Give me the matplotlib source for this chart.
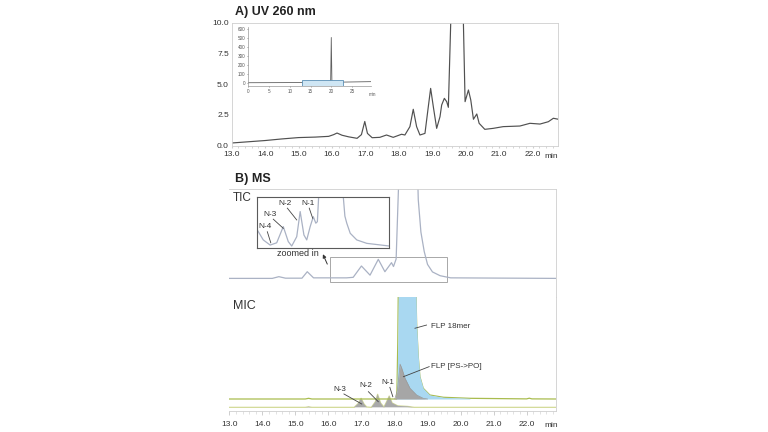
import matplotlib
matplotlib.use("Agg")
import numpy as np
import matplotlib.pyplot as plt
from matplotlib.patches import Rectangle
from matplotlib.ticker import MultipleLocator, FormatStrFormatter

plt.rcParams['font.family'] = ['Liberation Sans', 'DejaVu Sans']

# A) UV 260 nm trace (min, mAU)
uv_t = [13.0, 13.5, 14.0, 14.5, 15.0, 15.5, 15.9, 16.05, 16.15, 16.3, 16.5, 16.75,
        16.88, 16.98, 17.06, 17.2, 17.43, 17.63, 17.83, 18.08, 18.18, 18.33, 18.43,
        18.53, 18.63, 18.78, 18.88, 18.95, 19.03, 19.13, 19.23, 19.28, 19.36, 19.43,
        19.48, 19.55, 19.75, 19.93, 19.98, 20.08, 20.15, 20.23, 20.33, 20.4, 20.57,
        20.82, 21.12, 21.62, 21.92, 22.22, 22.47, 22.62, 22.77]
uv_v = [0.22, 0.32, 0.42, 0.55, 0.66, 0.7, 0.76, 0.9, 1.03, 0.85, 0.72, 0.6,
        0.9, 1.97, 1.0, 0.65, 0.68, 0.87, 0.68, 0.93, 0.87, 1.55, 2.96,
        1.55, 0.87, 1.0, 3.17, 4.66, 3.17, 1.41, 2.36, 3.31, 3.85, 3.58,
        3.12, 9.95, 40.0, 9.95, 3.58, 4.53, 3.72, 2.15, 2.58, 1.82, 1.33,
        1.41, 1.55, 1.6, 1.82, 1.76, 1.95, 2.23, 2.15]

# full UV run shown in the small inset (min, mAU)
uv_full_t = [0.0, 19.6, 19.85, 20.0, 20.15, 20.4, 29.5]
uv_full_v = [0.0, 3.0, 30.0, 505.0, 20.0, 5.0, 12.0]

# B) MS - total ion current (arbitrary units)
tic_t = [13.0, 14.3, 14.5, 14.7, 15.2, 15.36, 15.55, 16.55, 16.75, 17.0, 17.26,
         17.51, 17.71, 17.91, 17.97, 18.05, 18.12, 18.14, 18.4, 18.67, 18.72,
         18.8, 18.9, 19.0, 19.15, 19.38, 19.7, 22.88]
tic_v = [17.0, 17.0, 18.6, 17.2, 17.2, 23.2, 17.5, 17.5, 18.0, 28.5, 20.0,
         34.7, 23.2, 31.6, 28.0, 35.0, 100, 150, 400, 150, 90,
         60, 42, 30, 23, 19.5, 17.5, 17.0]

# zoomed-in TIC view
zoom_t = [16.10, 16.29, 16.51, 16.72, 16.93, 17.09, 17.2, 17.36, 17.47, 17.59,
          17.68, 17.79, 17.89, 17.97, 18.02, 18.06, 18.12, 18.5, 18.8, 18.85,
          18.9, 18.96, 19.07, 19.28, 19.6, 20.32]
zoom_v = [14.7, 9.5, 6.8, 8.0, 16.5, 8.6, 6.3, 11.2, 24.4, 12.1,
          9.5, 16.5, 21.7, 18.3, 19.1, 31.9, 60, 200, 60, 31.9,
          22.0, 18.3, 13.0, 9.5, 7.7, 6.3]

# MIC traces
low_base = 3.2
up_base = 10.5
low_t = [13.0, 15.3, 15.4, 15.5, 16.78, 16.9, 16.99, 17.08, 17.16, 17.3, 17.42,
         17.49, 17.58, 17.68, 17.76, 17.84, 17.93, 18.1, 18.4, 18.6, 22.88]
low_v = [3.2, 3.2, 3.7, 3.2, 3.2, 6.5, 11.1, 6.0, 3.5, 3.2, 8.0,
         14.6, 7.0, 3.5, 8.0, 13.1, 7.0, 4.5, 4.0, 3.2, 3.2]

up_t = [13.0, 15.3, 15.4, 15.5, 18.05, 18.07, 18.10, 18.13, 18.40, 18.62, 18.67,
        18.72, 18.77, 18.87, 19.07, 19.48, 20.28, 22.0, 22.08, 22.16, 22.88]
up_v = [10.5, 10.5, 11.1, 10.5, 10.5, 10.5, 60, 150, 300, 150, 76.7,
        47.5, 30, 19.9, 14.0, 12.0, 11.1, 10.6, 11.2, 10.6, 10.5]

po_t = [18.01, 18.09, 18.17, 18.22, 18.32, 18.47, 18.67, 18.87, 19.0]
po_v = [10.5, 18.4, 41.0, 37.4, 28.6, 19.9, 14.0, 11.1, 10.5]

ticks = [13.0, 14.0, 15.0, 16.0, 17.0, 18.0, 19.0, 20.0, 21.0, 22.0]
uv_yticks = [0.0, 2.5, 5.0, 7.5, 10.0]

W, H = 768, 432


def box(l, t, r, b):
    # pixel box (from top-left) -> figure fraction rect
    return [l / W, 1 - b / H, (r - l) / W, (b - t) / H]


fig = plt.figure(figsize=(7.68, 4.32), dpi=100)
txt = '#333333'
frame = '#cfcfcf'

# ---------- A) UV ----------
ax_uv = fig.add_axes(box(231.7, 22.7, 557.7, 145.7))
ax_uv.plot(uv_t, uv_v, color='#505050', lw=0.85)
ax_uv.set_xlim(13.0, 22.75)
ax_uv.set_ylim(0, 10)
ax_uv.set_xticks(ticks)
ax_uv.set_yticks(uv_yticks)
ax_uv.xaxis.set_major_formatter(FormatStrFormatter('%.1f'))
ax_uv.yaxis.set_major_formatter(FormatStrFormatter('%.1f'))
ax_uv.tick_params(axis='both', labelsize=6, colors=txt, length=0, pad=2)
ax_uv.xaxis.set_minor_locator(MultipleLocator(0.2))
ax_uv.tick_params(axis='x', which='both', color=frame, length=1.5)
for s in ax_uv.spines.values():
    s.set_color(frame)
    s.set_linewidth(0.6)
ax_uv.text(22.57, -0.06, 'min', transform=ax_uv.get_xaxis_transform(),
           ha='center', va='top', fontsize=6, color=txt)
fig.text(235 / W, 1 - 12 / H, 'A) UV 260 nm', fontsize=9, fontweight='bold',
         color='#222222', va='center', ha='left')

# inset with full run
ax_in = fig.add_axes(box(248.3, 27.0, 370.7, 86.3))
ax_in.patch.set_alpha(0)
ax_in.plot(uv_full_t, uv_full_v, color='#606060', lw=0.6)
ax_in.set_xlim(0, 29.5)
ax_in.set_ylim(-40, 622)
ax_in.add_patch(Rectangle((13.0, -35), 22.75 - 13.0, 62, facecolor='#cfe6f4',
                          edgecolor='#5b8fb5', lw=0.6, zorder=3))
ax_in.set_xticks([0, 5, 10, 15, 20, 25])
ax_in.set_yticks([0, 100, 200, 300, 400, 500, 600])
ax_in.tick_params(labelsize=3.3, colors='#555555', length=1, width=0.4, pad=1)
for side in ['top', 'right']:
    ax_in.spines[side].set_visible(False)
for side in ['left', 'bottom']:
    ax_in.spines[side].set_color('#999999')
    ax_in.spines[side].set_linewidth(0.5)
ax_in.text(29.8, -0.1, 'min', transform=ax_in.get_xaxis_transform(),
           ha='center', va='top', fontsize=3.3, color='#555555')

# ---------- B) MS ----------
fig.text(235 / W, 1 - 179 / H, 'B) MS', fontsize=9, fontweight='bold',
         color='#222222', va='center', ha='left')

ax_tic = fig.add_axes(box(229.3, 189.0, 555.7, 296.7))
ax_tic.plot(tic_t, tic_v, color='#aab2c4', lw=0.9)
ax_tic.set_xlim(13.0, 22.88)
ax_tic.set_ylim(0, 100)
ax_tic.set_xticks([])
ax_tic.set_yticks([])
ax_tic.spines['left'].set_visible(False)
ax_tic.spines['bottom'].set_visible(False)
for side in ['top', 'right']:
    ax_tic.spines[side].set_color(frame)
    ax_tic.spines[side].set_linewidth(0.6)
ax_tic.add_patch(Rectangle((16.05, 13.9), 19.58 - 16.05, 36.6 - 13.9,
                           fill=False, edgecolor='#a8a8a8', lw=0.7))
ax_tic.text(0.012, 0.92, 'TIC', transform=ax_tic.transAxes, fontsize=8.5,
            color=txt, va='center', ha='left')
ax_tic.text(15.09, 40.3, 'zoomed in', fontsize=6.5, color=txt,
            ha='center', va='center')
ax_tic.annotate('', xy=(15.8, 41.8), xytext=(16.0, 27.9),
                arrowprops=dict(arrowstyle='-|>', color='#333333', lw=0.7,
                                mutation_scale=5))

# zoomed TIC view
ax_z = fig.add_axes(box(256.7, 197.3, 389.3, 248.3))
ax_z.set_facecolor('white')
ax_z.plot(zoom_t, zoom_v, color='#aab2c4', lw=0.9)
ax_z.set_xlim(16.08, 20.32)
ax_z.set_ylim(5.1, 31.9)
ax_z.set_xticks([])
ax_z.set_yticks([])
for s in ax_z.spines.values():
    s.set_color('#5a5a5a')
    s.set_linewidth(0.8)
zoom_labels = [('N-4', (16.35, 16.5), (16.42, 13.8), (16.53, 8.0)),
               ('N-3', (16.51, 22.6), (16.61, 20.4), (16.93, 15.6)),
               ('N-2', (16.99, 28.4), (17.06, 26.2), (17.36, 20.0)),
               ('N-1', (17.73, 28.4), (17.76, 26.2), (17.87, 20.9))]
for lab, tp, a, b in zoom_labels:
    ax_z.text(tp[0], tp[1], lab, fontsize=6, color=txt, ha='center', va='center')
    ax_z.plot([a[0], b[0]], [a[1], b[1]], color='#444444', lw=0.6)

# MIC
ax_mic = fig.add_axes(box(229.3, 296.7, 555.7, 411.0))
ax_mic.plot(low_t, low_v, color='#d3da98', lw=0.9, zorder=2)
ax_mic.fill_between(low_t, low_base, low_v, where=np.array(low_v) > low_base + 0.3,
                    color='#a9a9a9', lw=0, zorder=3, interpolate=True)
ax_mic.plot(up_t, up_v, color='#a9bc4e', lw=0.9, zorder=4)
up_t_arr = np.array(up_t)
ax_mic.fill_between(up_t, up_base, up_v, where=(up_t_arr >= 18.05) & (up_t_arr <= 20.3),
                    color='#a9d8f1', lw=0, zorder=4)
ax_mic.fill_between(po_t, up_base, po_v, color='#a6a6a6', lw=0, zorder=5)
ax_mic.plot(po_t, po_v, color='#999999', lw=0.5, zorder=5)
ax_mic.set_xlim(13.0, 22.88)
ax_mic.set_ylim(0, 100)
ax_mic.set_yticks([])
ax_mic.set_xticks(ticks)
ax_mic.xaxis.set_major_formatter(FormatStrFormatter('%.1f'))
ax_mic.xaxis.set_minor_locator(MultipleLocator(0.2))
ax_mic.tick_params(axis='x', which='major', labelsize=6, labelcolor=txt,
                   color='#bbbbbb', length=3, width=0.5, pad=4)
ax_mic.tick_params(axis='x', which='minor', color='#cccccc', length=2, width=0.4)
ax_mic.spines['left'].set_visible(False)
ax_mic.spines['top'].set_visible(False)
for side in ['right', 'bottom']:
    ax_mic.spines[side].set_color(frame)
    ax_mic.spines[side].set_linewidth(0.6)
ax_mic.text(0.012, 0.92, 'MIC', transform=ax_mic.transAxes, fontsize=9,
            color=txt, va='center', ha='left')
ax_mic.text(22.73, -0.1, 'min', transform=ax_mic.get_xaxis_transform(),
            ha='center', va='top', fontsize=6, color=txt)

mic_labels = [('FLP 18mer', (19.1, 74.0), (18.62, 72.4), (18.97, 75.2), 'left'),
              ('FLP [PS->PO]', (19.1, 38.5), (18.27, 30.0), (19.05, 38.8), 'left'),
              ('N-1', (17.81, 25.1), (17.86, 20.7), (17.95, 12.5), 'center'),
              ('N-2', (17.14, 21.9), (17.21, 16.9), (17.51, 8.1), 'center'),
              ('N-3', (16.35, 19.0), (16.47, 14.9), (17.01, 6.1), 'center')]
for lab, tp, a, b, ha in mic_labels:
    ax_mic.text(tp[0], tp[1], lab, fontsize=5.8, color=txt, ha=ha, va='center',
                zorder=6)
    ax_mic.plot([a[0], b[0]], [a[1], b[1]], color='#444444', lw=0.6, zorder=6)

fig.savefig('out.png', dpi=100)
